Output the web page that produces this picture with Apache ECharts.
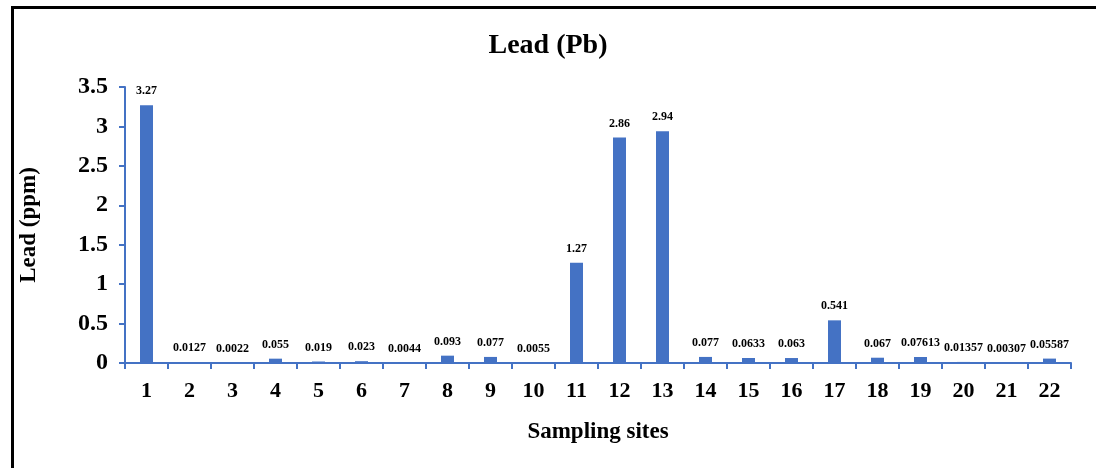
<!DOCTYPE html>
<html>
<head>
<meta charset="utf-8">
<style>
  html, body { margin: 0; padding: 0; background: #fff; }
  #chart { width: 1096px; height: 468px; }
</style>
<script src="https://cdn.jsdelivr.net/npm/echarts@6/dist/echarts.min.js"></script>
</head>
<body>
<div id="chart"></div>
<script>
// Sampling site numbers along the x axis
const sites = ['1','2','3','4','5','6','7','8','9','10','11','12','13','14','15','16','17','18','19','20','21','22'];
// Lead concentration per site (ppm)
const leadPpm = [3.27, 0.0127, 0.0022, 0.055, 0.019, 0.023, 0.0044, 0.093, 0.077, 0.0055,
                 1.27, 2.86, 2.94, 0.077, 0.0633, 0.063, 0.541, 0.067, 0.07613, 0.01357, 0.00307, 0.05587];

const blue = '#4472C4';
const serif = '"Liberation Serif", "Times New Roman", serif';

const chart = echarts.init(document.getElementById('chart'), null, { renderer: 'canvas' });
chart.setOption({
  backgroundColor: '#fff',
  animation: false,
  title: {
    text: 'Lead (Pb)',
    left: 'center',
    top: 27,
    textStyle: { fontFamily: serif, fontWeight: 'bold', fontSize: 28, color: '#000' }
  },
  graphic: [{
    type: 'rect',
    left: 10, top: 5,
    shape: { width: 1200, height: 600 },
    style: { fill: 'none', stroke: '#000', lineWidth: 3 },
    silent: true
  }],
  grid: { left: 125, right: 25, top: 87, bottom: 105 },
  xAxis: {
    type: 'category',
    data: sites,
    name: 'Sampling sites',
    nameLocation: 'middle',
    nameGap: 58,
    nameTextStyle: { fontFamily: serif, fontWeight: 'bold', fontSize: 23, color: '#000' },
    axisLine: { lineStyle: { color: blue, width: 2 } },
    axisTick: { show: true, alignWithLabel: false, length: 6, lineStyle: { color: blue, width: 2 } },
    axisLabel: { fontFamily: serif, fontWeight: 'bold', fontSize: 22, color: '#000', margin: 17, interval: 0 }
  },
  yAxis: {
    type: 'value',
    min: 0, max: 3.5, interval: 0.5,
    name: 'Lead (ppm)',
    nameLocation: 'middle',
    nameGap: 84,
    nameTextStyle: { fontFamily: serif, fontWeight: 'bold', fontSize: 23, color: '#000' },
    splitLine: { show: false },
    axisLine: { show: true, lineStyle: { color: blue, width: 2 } },
    axisTick: { show: true, length: 6, lineStyle: { color: blue, width: 2 } },
    axisLabel: { fontFamily: serif, fontWeight: 'bold', fontSize: 24, color: '#000', margin: 17 }
  },
  series: [{
    type: 'bar',
    data: leadPpm,
    barWidth: 13,
    itemStyle: { color: blue },
    label: {
      show: true,
      position: 'top',
      distance: 8,
      fontFamily: serif,
      fontWeight: 'bold',
      fontSize: 12,
      color: '#000',
      formatter: p => String(p.value)
    }
  }]
});
</script>
</body>
</html>
